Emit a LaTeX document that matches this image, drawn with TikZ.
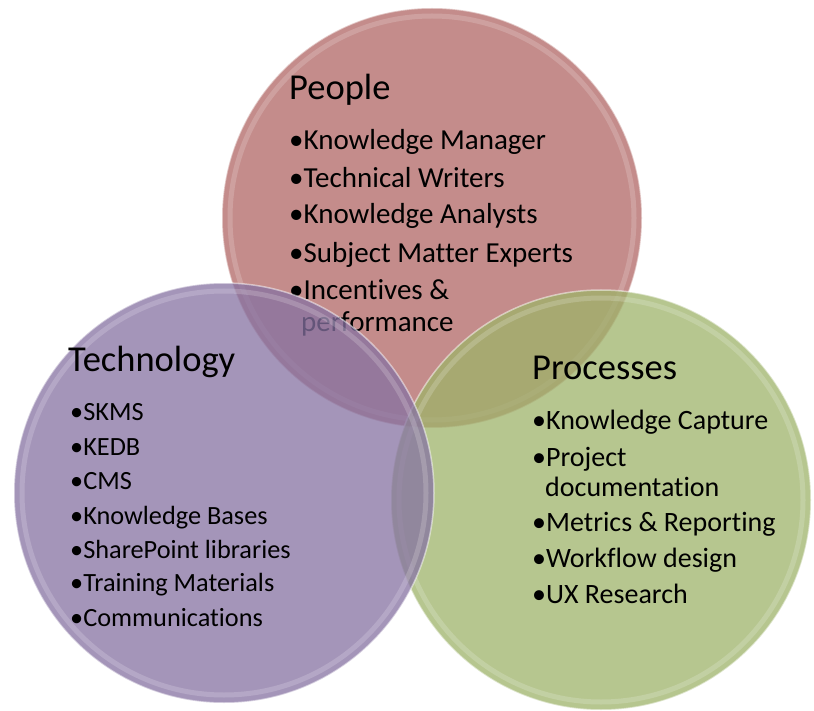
\documentclass[tikz,border=0pt]{standalone}
\usepackage{fontspec}
\setmainfont{Carlito}[Ligatures=NoCommon]

% fills, given as the colour under the transparency
\definecolor{peoplefill}{RGB}{176,102,100}
\definecolor{techfill}{RGB}{134,114,162}
\definecolor{procfill}{RGB}{158,179,106}

\begin{document}
\begin{tikzpicture}[x=1pt,y=-1pt,
                    bubble/.style={circle,minimum size=420pt,inner sep=0pt,outer sep=0pt,
                                   fill opacity=0.75,draw=white,draw opacity=0.5,line width=1.5pt},
                    rim/.style={white,opacity=0.18,line width=5pt},
                    heading/.style={anchor=base west,inner sep=0pt,font=\fontsize{36.5}{36.5}\selectfont},
                    entry/.style={anchor=base west,inner sep=0pt,font=\fontsize{#1}{#1}\selectfont},
                    entry/.default=26.3]

  \useasboundingbox (0,0) rectangle (814,711);

  % people circle and its list
  \node[bubble, fill=peoplefill] (people) at (432,218) {};
  \draw[rim] (people.center) circle (202pt);

  \node[heading] (peoplehead) at (289,100) {People};
  \node[entry=29] (p1) at (289,150) {\textbullet Knowledge Manager};
  \node[entry=29] (p2) at (289,188) {\textbullet Technical Writers};
  \node[entry=29] (p3) at (289,224) {\textbullet Knowledge Analysts};
  \node[entry=29] (p4) at (289,263) {\textbullet Subject Matter Experts};
  \node[entry=29] (p5) at (289,300) {\textbullet Incentives \&};
  \node[entry=29] (p5b) at (301,331) {performance};

  % processes circle
  \node[bubble, fill=procfill] (processes) at (601,500) {};
  \draw[rim] (processes.center) circle (202pt);

  % technology circle, lies over the other two
  \node[bubble, fill=techfill] (technology) at (224,493) {};
  \draw[rim] (technology.center) circle (202pt);

  \node[heading] (techhead) at (68,371) {Technology};
  \node[entry] (t1) at (70,420) {\textbullet SKMS};
  \node[entry] (t2) at (70,455) {\textbullet KEDB};
  \node[entry] (t3) at (70,489) {\textbullet CMS};
  \node[entry] (t4) at (70,524) {\textbullet Knowledge Bases};
  \node[entry] (t5) at (70,558) {\textbullet SharePoint libraries};
  \node[entry] (t6) at (70,591) {\textbullet Training Materials};
  \node[entry] (t7) at (70,626) {\textbullet Communications};

  \node[heading] (prochead) at (532,379) {Processes};
  \node[entry=28] (r1) at (532,429) {\textbullet Knowledge Capture};
  \node[entry=28] (r2) at (532,466) {\textbullet Project};
  \node[entry=28] (r2b) at (545,496) {documentation};
  \node[entry=28] (r3) at (532,531) {\textbullet Metrics \& Reporting};
  \node[entry=28] (r4) at (532,567) {\textbullet Workflow design};
  \node[entry=28] (r5) at (532,603) {\textbullet UX Research};

\end{tikzpicture}
\end{document}
